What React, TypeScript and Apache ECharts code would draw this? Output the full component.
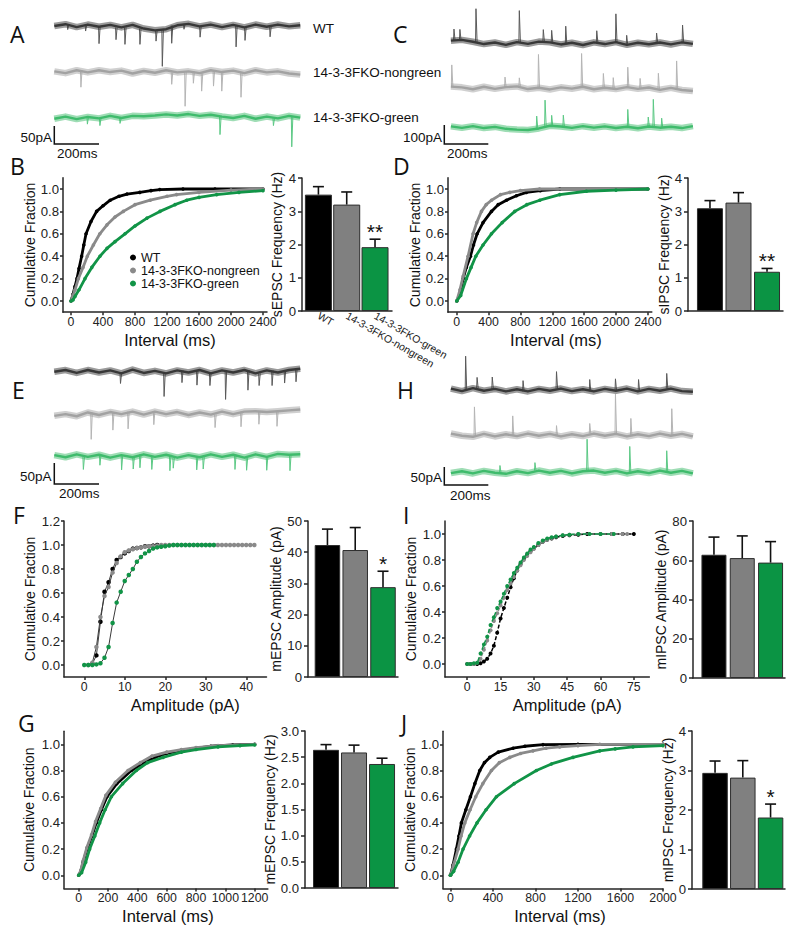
import React, { useEffect, useRef } from "react";
import * as echarts from "echarts";

// ---------------- data ----------------
const groups = ["WT", "14-3-3FKO-nongreen", "14-3-3FKO-green"];

// B: sEPSC inter-event interval cumulative fraction [ms, fraction]
const sEPSCIntWT = [[0,0],[25,0.06],[50,0.13],[75,0.2],[100,0.29],[133,0.4],[160,0.5],[188,0.6],[250,0.71],[320,0.8],[400,0.85],[490,0.9],[600,0.935],[700,0.955],[860,0.97],[1000,0.985],[1110,0.995],[1400,1],[1800,1],[2400,1]];
const sEPSCIntNG = [[0,0],[25,0.05],[50,0.1],[92,0.2],[150,0.3],[204,0.4],[280,0.5],[360,0.6],[450,0.68],[550,0.75],[654,0.8],[800,0.86],[990,0.9],[1200,0.935],[1320,0.95],[1600,0.97],[2000,0.99],[2400,1]];
const sEPSCIntG = [[0,0],[25,0.01],[50,0.04],[100,0.1],[175,0.2],[260,0.3],[362,0.4],[450,0.47],[550,0.53],[675,0.6],[800,0.67],[950,0.74],[1112,0.8],[1300,0.86],[1446,0.9],[1600,0.925],[1821,0.95],[2100,0.97],[2400,0.985]];
// B: sEPSC frequency (Hz)
const sEPSCFreqMean = [3.5, 3.2, 1.92];
const sEPSCFreqSem = [0.24, 0.38, 0.24];
const sEPSCFreqSig = ["", "", "**"];

// D: sIPSC interval
const sIPSCIntWT = [[0,0],[40,0.06],[80,0.2],[120,0.3],[172,0.4],[210,0.5],[256,0.6],[330,0.7],[436,0.8],[520,0.86],[624,0.9],[750,0.94],[875,0.97],[1050,0.985],[1294,1],[2400,1]];
const sIPSCIntNG = [[0,0],[40,0.1],[80,0.22],[142,0.4],[205,0.6],[250,0.7],[310,0.8],[370,0.86],[436,0.9],[550,0.95],[666,0.97],[800,0.985],[1040,1],[2400,1]];
const sIPSCIntG = [[0,0],[50,0.05],[121,0.2],[180,0.3],[239,0.4],[330,0.5],[436,0.6],[570,0.7],[729,0.8],[880,0.86],[1043,0.9],[1294,0.95],[1629,0.98],[2000,0.99],[2400,1]];
const sIPSCFreqMean = [3.09, 3.26, 1.18];
const sIPSCFreqSem = [0.23, 0.3, 0.1];
const sIPSCFreqSig = ["", "", "**"];

// F: mEPSC amplitude cumulative [pA, fraction]
const mEPSCAmpWT = [[2,0.01],[3,0.08],[4,0.36],[5,0.61],[6,0.69],[7,0.8],[8,0.875],[9,0.9],[10,0.93],[11,0.95],[12,0.97],[13,0.975],[14,0.98],[15,0.99],[16,0.99],[17,0.995],[18,1]];
const mEPSCAmpNG = [[1,0],[2,0.02],[3,0.15],[4,0.4],[5,0.575],[6,0.65],[7,0.77],[8,0.85],[9,0.905],[10,0.94],[11,0.955],[12,0.965],[13,0.975],[14,0.98],[15,0.985],[16,0.99],[17,0.99],[18,0.995],[19,1],[20,1],[21,1],[22,1],[23,1],[24,1],[25,1],[26,1],[27,1],[28,1],[29,1],[30,1],[31,1],[32,1],[33,1],[34,1],[35,1],[36,1],[37,1],[38,1],[39,1],[40,1],[41,1],[42,1]];
const mEPSCAmpG = [[0,0],[1,0],[2,0],[3,0.005],[4,0.015],[5,0.06],[6,0.15],[7,0.35],[8,0.52],[9,0.61],[10,0.7],[11,0.75],[12,0.8],[13,0.86],[14,0.9],[15,0.93],[16,0.95],[17,0.97],[18,0.98],[19,0.985],[20,0.99],[21,0.995],[22,1],[23,1],[24,1],[25,1],[26,1],[27,1],[28,1],[29,1],[30,1],[31,1],[32,1]];
const mEPSCAmpMean = [42.3, 40.7, 28.8];
const mEPSCAmpSem = [5.1, 7.2, 5.1];
const mEPSCAmpSig = ["", "", "*"];

// I: mIPSC amplitude cumulative
const mIPSCAmpWT = [[0,0],[1.5,0],[3,0],[4.5,0],[6,0.005],[7.5,0.02],[9,0.04],[10.5,0.08],[12,0.14],[13.5,0.24],[15,0.35],[16.5,0.43],[18,0.51],[19.5,0.59],[21,0.66],[22.5,0.72],[24,0.77],[25.5,0.81],[27,0.84],[28.5,0.87],[30,0.89],[32,0.915],[34,0.94],[36,0.955],[38,0.965],[40,0.975],[43,0.985],[46,0.99],[50,0.995],[54,1],[60,1],[65,1],[70,1],[75,1]];
const mIPSCAmpNG = [[0,0],[1.5,0],[3,0],[4.5,0.01],[6,0.04],[7.5,0.11],[9,0.18],[10.5,0.26],[12,0.33],[13.5,0.39],[15,0.45],[16.5,0.51],[18,0.57],[19.5,0.62],[21,0.67],[22.5,0.72],[24,0.76],[25.5,0.8],[27,0.83],[28.5,0.86],[30,0.885],[32,0.915],[34,0.94],[36,0.955],[38,0.97],[40,0.98],[43,0.99],[46,0.995],[50,1],[55,1],[60,1],[65,1],[70,1],[72,1]];
const mIPSCAmpG = [[0,0],[1.5,0],[3,0.005],[4.5,0.01],[6,0.08],[7.5,0.15],[9,0.21],[10.5,0.3],[12,0.36],[13.5,0.43],[15,0.48],[16.5,0.54],[18,0.6],[19.5,0.65],[21,0.7],[22.5,0.74],[24,0.78],[25.5,0.82],[27,0.85],[28.5,0.88],[30,0.9],[32,0.93],[34,0.95],[36,0.965],[38,0.975],[40,0.98],[43,0.99],[46,0.995],[50,1],[55,1],[60,1],[66,1]];
const mIPSCAmpMean = [62.8, 61.1, 58.8];
const mIPSCAmpSem = [9.0, 11.3, 10.7];
const mIPSCAmpSig = ["", "", ""];

// G: mEPSC interval
const mEPSCIntWT = [[0,0],[15,0.03],[30,0.1],[57,0.2],[90,0.3],[120,0.4],[155,0.5],[193,0.6],[260,0.7],[359,0.8],[430,0.85],[518,0.9],[600,0.93],[688,0.95],[800,0.97],[900,0.985],[1050,0.995],[1200,1]];
const mEPSCIntNG = [[0,0],[15,0.04],[30,0.11],[55,0.21],[88,0.31],[115,0.41],[150,0.51],[185,0.61],[250,0.71],[336,0.8],[420,0.86],[500,0.91],[600,0.94],[700,0.96],[800,0.975],[950,0.99],[1200,1]];
const mEPSCIntG = [[0,0],[20,0.02],[48,0.1],[75,0.2],[110,0.3],[143,0.4],[180,0.5],[223,0.6],[300,0.7],[393,0.8],[470,0.86],[575,0.9],[700,0.94],[800,0.96],[950,0.98],[1100,0.99],[1200,0.995]];
const mEPSCFreqMean = [2.64, 2.59, 2.37];
const mEPSCFreqSem = [0.1, 0.14, 0.11];
const mEPSCFreqSig = ["", "", ""];

// J: mIPSC interval
const mIPSCIntWT = [[0,0],[25,0.08],[56,0.2],[80,0.3],[103,0.4],[145,0.5],[188,0.6],[230,0.7],[276,0.8],[320,0.86],[370,0.9],[450,0.94],[589,0.97],[700,0.985],[871,0.997],[1200,1],[2000,1]];
const mIPSCIntNG = [[0,0],[30,0.08],[72,0.2],[100,0.3],[135,0.4],[185,0.5],[238,0.6],[305,0.7],[386,0.8],[460,0.86],[558,0.9],[660,0.93],[777,0.95],[900,0.97],[1028,0.98],[1200,0.99],[1405,1],[2000,1]];
const mIPSCIntG = [[0,0],[30,0.03],[72,0.1],[119,0.2],[180,0.3],[250,0.4],[335,0.5],[433,0.6],[600,0.7],[809,0.8],[950,0.85],[1153,0.9],[1405,0.95],[1550,0.965],[1718,0.98],[2000,0.99]];
const mIPSCFreqMean = [2.94, 2.82, 1.81];
const mIPSCFreqSem = [0.3, 0.43, 0.34];
const mIPSCFreqSig = ["", "", "*"];

// Example traces: baseline drift (pA, every 50 ms) and events [time ms, amplitude pA]
const A_WT_drift = [0,5,-3,4,-2,3,-4,3,-7,-12,-9,2,6,-1,4,-3,3,-4,4,-2,4,-1,2];
const A_NG_drift = [1,-4,4,-2,4,-1,3,-5,2,-3,4,-2,1,-4,4,-1,3,-4,4,-2,1,-5,-8];
const A_G_drift = [-4,2,-5,1,-3,4,-2,4,3,5,8,5,9,4,7,2,-2,4,-4,2,-3,4,-1];
const A_WT_events = [[60,15],[140,18],[200,47],[276,34],[316,47],[383,44],[455,30],[483,103],[525,50],[580,15],[652,30],[813,61],[853,36],[965,28]];
const A_NG_events = [[119,47],[525,33],[585,97],[622,33],[659,50],[712,44],[749,53],[835,67]];
const A_G_events = [[148,20],[204,20],[294,15],[741,50],[980,20],[1062,86]];

const C_WT_drift = [14,18,8,-4,4,-8,6,-3,9,5,-6,3,-9,5,-4,6,-8,3,-5,4,-6,5,-3];
const C_NG_drift = [9,5,-5,8,-3,6,10,-4,3,-6,5,-2,8,-5,3,-4,6,-3,4,-8,2,-9,-14];
const C_G_drift = [5,-3,6,-4,2,-8,-12,-14,-6,8,4,-3,6,-2,5,-4,3,-5,4,-2,3,-4,6];
const C_WT_events = [[44,61],[71,55],[144,174],[341,166],[450,63],[488,63],[552,96],[693,61],[780,149],[829,50],[965,50],[1083,91]];
const C_NG_events = [[34,114],[276,53],[341,45],[428,175],[624,175],[723,75],[768,60],[834,105],[890,55],[973,87],[1056,153]];
const C_G_events = [[420,65],[458,135],[488,55],[541,60],[834,91],[927,50],[950,143],[988,50]];

const E_WT_drift = [0,4,-3,4,-2,3,-4,5,-3,2,-4,3,-2,4,-4,3,-2,4,-4,3,-2,4,7];
const E_NG_drift = [-6,-2,-7,2,-4,3,-2,4,-3,4,-2,3,-4,2,-3,4,-2,4,5,3,5,7,9];
const E_G_drift = [2,-3,4,-2,3,-4,2,-3,4,-2,3,-4,2,-3,4,-2,3,-4,4,-2,5,3,4];
const E_WT_events = [[296,24],[491,55],[571,29],[638,36],[696,29],[766,69],[866,48],[916,29],[974,36],[1030,31],[1081,31]];
const E_NG_events = [[165,64],[262,43],[330,41],[445,31],[719,31],[835,36],[915,31],[996,36]];
const E_G_events = [[130,30],[204,25],[301,35],[353,28],[383,32],[436,30],[517,38],[532,25],[637,30],[666,28],[808,35],[860,30],[950,32],[1054,38]];

const H_WT_drift = [4,-3,5,-2,3,-4,2,-4,3,-2,4,-3,2,-4,3,-2,4,-4,3,-2,4,-3,-5];
const H_NG_drift = [4,-2,-5,3,-4,2,-3,4,-2,3,-4,2,-3,4,-2,3,-4,2,-3,4,-2,3,-4];
const H_G_drift = [-3,2,-4,3,-2,-5,2,-3,4,-2,3,-4,2,4,-2,3,-4,2,-3,4,-2,3,-4];
const H_WT_events = [[97,97],[149,30],[218,33],[358,30],[510,47],[661,33],[778,33],[883,33],[1011,42]];
const H_NG_events = [[137,83],[311,56],[510,30],[661,28],[778,111],[848,50],[1034,75]];
const H_G_events = [[253,20],[412,22],[649,89],[843,75],[1011,61]];

// ---------------- styles / layout ----------------
const FONT = "Liberation Sans, Arial, Helvetica, sans-serif";
const cdfColors = ["#000000", "#8a8a8a", "#119447"];
const barColors = ["#000000", "#808080", "#0b9444"];
const traceColors = ["#383838", "#a2a2a2", "#3fbb6c"];
const spikeColors = ["#5a5a5a", "#b5b5b5", "#5cc985"];
const AX = { color: "#262626", width: 1.5 };
const YTICK_FS = 13.2;
const XTICK_FS = 12.3;

const tracePanels = [
  { grid: { left: 54.3, top: 5, width: 246, height: 155 }, pxPerMs: 0.2236, pxPerPa: 0.36, tStart: 0, tStep: 50, dir: -1,
    traces: [{ y: 26, drift: A_WT_drift, events: A_WT_events }, { y: 71.7, drift: A_NG_drift, events: A_NG_events }, { y: 117.3, drift: A_G_drift, events: A_G_events }],
    scale: { topY: 126, amp: 50, ms: 200 } },
  { grid: { left: 444.3, top: 0, width: 249, height: 160 }, pxPerMs: 0.22, pxPerPa: 0.19, tStart: 30, tStep: 50, dir: 1,
    traces: [{ y: 43.3, drift: C_WT_drift, events: C_WT_events }, { y: 88.3, drift: C_NG_drift, events: C_NG_events }, { y: 127.3, drift: C_G_drift, events: C_G_events }],
    scale: { topY: 125, amp: 100, ms: 200 } },
  { grid: { left: 54.3, top: 340, width: 246, height: 160 }, pxPerMs: 0.2236, pxPerPa: 0.42, tStart: 0, tStep: 50, dir: -1,
    traces: [{ y: 371.7, drift: E_WT_drift, events: E_WT_events }, { y: 413.3, drift: E_NG_drift, events: E_NG_events }, { y: 456, drift: E_G_drift, events: E_G_events }],
    scale: { topY: 463, amp: 50, ms: 200 } },
  { grid: { left: 444.3, top: 340, width: 249, height: 160 }, pxPerMs: 0.22, pxPerPa: 0.36, tStart: 30, tStep: 50, dir: 1,
    traces: [{ y: 390, drift: H_WT_drift, events: H_WT_events }, { y: 435, drift: H_NG_drift, events: H_NG_events }, { y: 472, drift: H_G_drift, events: H_G_events }],
    scale: { topY: 467, amp: 50, ms: 200 } },
];

const cdfPanels = [
  { left: 63, top: 177.8, width: 204, height: 134.4, xMin: -100, xMax: 2450, xTicks: [0,400,800,1200,1600,2000,2400], yMin: -0.1, yMax: 1.1, yTicks: [0,0.2,0.4,0.6,0.8,1], xName: "Interval (ms)", xShift: 10, yGap: 21, data: [sEPSCIntWT, sEPSCIntNG, sEPSCIntG], kind: "dense" },
  { left: 448, top: 177.8, width: 203.8, height: 134.4, xMin: -110, xMax: 2450, xTicks: [0,400,800,1200,1600,2000,2400], yMin: -0.1, yMax: 1.1, yTicks: [0,0.2,0.4,0.6,0.8,1], xName: "Interval (ms)", xShift: 12, yGap: 26, data: [sIPSCIntWT, sIPSCIntNG, sIPSCIntG], kind: "dense" },
  { left: 64, top: 521, width: 202.5, height: 156, xMin: -5, xMax: 45, xTicks: [0,10,20,30,40], yMin: -0.1, yMax: 1.2, yTicks: [0,0.2,0.4,0.6,0.8,1,1.2], xName: "Amplitude (pA)", xShift: 40, yGap: 27, data: [mEPSCAmpWT, mEPSCAmpNG, mEPSCAmpG], kind: "connected" },
  { left: 445, top: 521, width: 204.4, height: 156, xMin: -10, xMax: 82, xTicks: [0,15,30,45,60,75], yMin: -0.1, yMax: 1.1, yTicks: [0,0.2,0.4,0.6,0.8,1], xName: "Amplitude (pA)", xShift: 40, yGap: 27, data: [mIPSCAmpWT, mIPSCAmpNG, mIPSCAmpG], kind: "dashed" },
  { left: 64, top: 731.2, width: 203.9, height: 157.2, xMin: -100, xMax: 1290, xTicks: [0,200,400,600,800,1000,1200], yMin: -0.1, yMax: 1.1, yTicks: [0,0.2,0.4,0.6,0.8,1], xName: "Interval (ms)", xShift: 4, yGap: 28, data: [mEPSCIntWT, mEPSCIntNG, mEPSCIntG], kind: "dense" },
  { left: 443, top: 731.2, width: 220, height: 157.2, xMin: -70, xMax: 2000, xTicks: [0,400,800,1200,1600,2000], yMin: -0.1, yMax: 1.1, yTicks: [0,0.2,0.4,0.6,0.8,1], xName: "Interval (ms)", xShift: 14, yGap: 26, data: [mIPSCIntWT, mIPSCIntNG, mIPSCIntG], kind: "dense" },
];

const barPanels = [
  { left: 302, top: 178, width: 90, height: 133, xMin: -0.58, xMax: 2.6, yMax: 4, yInt: 1, dec: 0, name: "sEPSC Frequency (Hz)", nameGap: 18, barW: 27, mean: sEPSCFreqMean, sem: sEPSCFreqSem, sig: sEPSCFreqSig, cats: true },
  { left: 688, top: 178, width: 95, height: 133, xMin: -0.77, xMax: 2.56, yMax: 4, yInt: 1, dec: 0, name: "sIPSC Frequency (Hz)", nameGap: 12, barW: 26, mean: sIPSCFreqMean, sem: sIPSCFreqSem, sig: sIPSCFreqSig, cats: false },
  { left: 308, top: 521, width: 90, height: 156, xMin: -0.7, xMax: 2.54, yMax: 50, yInt: 10, dec: 0, name: "mEPSC Amplitude (pA)", nameGap: 22, barW: 25.5, mean: mEPSCAmpMean, sem: mEPSCAmpSem, sig: mEPSCAmpSig, cats: false },
  { left: 693, top: 521, width: 92, height: 157, xMin: -0.74, xMax: 2.51, yMax: 80, yInt: 20, dec: 0, name: "mIPSC Amplitude (pA)", nameGap: 19, barW: 25, mean: mIPSCAmpMean, sem: mIPSCAmpSem, sig: mIPSCAmpSig, cats: false },
  { left: 305, top: 731, width: 93, height: 157, xMin: -0.75, xMax: 2.57, yMax: 3, yInt: 0.5, dec: 1, name: "mEPSC Frequency (Hz)", nameGap: 22, barW: 26, mean: mEPSCFreqMean, sem: mEPSCFreqSem, sig: mEPSCFreqSig, cats: false },
  { left: 692, top: 731, width: 93, height: 158, xMin: -0.83, xMax: 2.52, yMax: 4, yInt: 1, dec: 0, name: "mIPSC Frequency (Hz)", nameGap: 15, barW: 25.5, mean: mIPSCFreqMean, sem: mIPSCFreqSem, sig: mIPSCFreqSig, cats: false },
];

const letters = [["A",10,34],["C",393,34],["B",10,166],["D",393,166],["E",12,390],["H",397,390],["F",13,515],["I",403,515],["G",18,723],["J",401,723]];
const traceLabels = [["WT",313,28],["14-3-3FKO-nongreen",313,72.5],["14-3-3FKO-green",313,117.5]];
const scaleLabels = [
  ["50pA",52,137.5,"right"],["200ms",57,153.5,"left"],
  ["100pA",442,137.5,"right"],["200ms",447,153,"left"],
  ["50pA",51.5,476,"right"],["200ms",59,493,"left"],
  ["50pA",442,477,"right"],["200ms",450,495.5,"left"],
];

function buildOption() {
  const grid: any[] = [];
  const xAxis: any[] = [];
  const yAxis: any[] = [];
  const series: any[] = [];

  // trace panels
  tracePanels.forEach((p) => {
    const gi = grid.length;
    grid.push({ ...p.grid, containLabel: false, outerBoundsMode: "none" });
    xAxis.push({ type: "value", gridIndex: gi, min: 0, max: p.grid.width / p.pxPerMs, show: false });
    yAxis.push({ type: "value", gridIndex: gi, min: -p.grid.height / p.pxPerPa, max: 0, show: false });
    p.traces.forEach((tr, k) => {
      const base = -(tr.y - p.grid.top) / p.pxPerPa;
      const band = tr.drift.map((d, i) => [p.tStart + i * p.tStep, base + d]);
      series.push({
        type: "line", xAxisIndex: gi, yAxisIndex: gi, silent: true, clip: false, data: band,
        symbol: "none", lineStyle: { color: traceColors[k], width: 6.5, opacity: 0.5, join: "round" }, z: 2,
      });
      series.push({
        type: "line", xAxisIndex: gi, yAxisIndex: gi, silent: true, clip: false, data: band,
        symbol: "none", lineStyle: { color: traceColors[k], width: 2.4, join: "round" }, z: 2,
      });
      series.push({
        type: "lines", coordinateSystem: "cartesian2d", xAxisIndex: gi, yAxisIndex: gi, polyline: true, silent: true, clip: false,
        data: tr.events.map(([t, a]) => {
          const idx = Math.max(0, Math.min(tr.drift.length - 1, Math.round((t - p.tStart) / p.tStep)));
          const b = base + tr.drift[idx];
          return { coords: [[t - 2, b], [t, b + p.dir * a], [t + 5, b]] };
        }),
        lineStyle: { color: spikeColors[k], width: 1, opacity: 1 }, z: 1,
      });
    });
    const vTop = -(p.scale.topY - p.grid.top) / p.pxPerPa;
    series.push({
      type: "lines", coordinateSystem: "cartesian2d", xAxisIndex: gi, yAxisIndex: gi, polyline: true, silent: true, clip: false,
      data: [{ coords: [[0, vTop], [0, vTop - p.scale.amp], [p.scale.ms, vTop - p.scale.amp]] }],
      lineStyle: { color: "#111", width: 1.5, opacity: 1 }, z: 3,
    });
  });

  // CDF panels
  cdfPanels.forEach((p) => {
    const gi = grid.length;
    grid.push({ left: p.left, top: p.top, width: p.width, height: p.height, containLabel: false, outerBoundsMode: "none" });
    xAxis.push({
      type: "value", gridIndex: gi, min: p.xMin, max: p.xMax,
      axisLine: { show: true, onZero: false, lineStyle: AX },
      axisTick: { show: true, length: 3, customValues: p.xTicks, lineStyle: AX },
      axisLabel: { customValues: p.xTicks, fontSize: XTICK_FS, color: "#222", margin: 4, fontFamily: FONT, formatter: (v: number) => String(v) },
      splitLine: { show: false },
      name: p.xName, nameLocation: "middle", nameGap: 19,
      nameTextStyle: { fontSize: 16.5, color: "#111", fontFamily: FONT, padding: [0, 0, 0, p.xShift] },
    });
    yAxis.push({
      type: "value", gridIndex: gi, min: p.yMin, max: p.yMax,
      axisLine: { show: true, onZero: false, lineStyle: AX },
      axisTick: { show: true, length: 3, customValues: p.yTicks, lineStyle: AX },
      axisLabel: { customValues: p.yTicks, fontSize: YTICK_FS, color: "#222", margin: 4, fontFamily: FONT, formatter: (v: number) => v.toFixed(1) },
      splitLine: { show: false },
      name: "Cumulative Fraction", nameLocation: "middle", nameRotate: 90, nameGap: p.yGap,
      nameTextStyle: { fontSize: 14, color: "#111", fontFamily: FONT },
    });
    [1, 0, 2].forEach((k) => {
      const base: any = {
        type: "line", name: groups[k], xAxisIndex: gi, yAxisIndex: gi, data: p.data[k], silent: true,
        symbol: "circle", showSymbol: true, showAllSymbol: true, z: 3 + k,
        itemStyle: { color: cdfColors[k] },
      };
      if (p.kind === "dense") {
        base.symbolSize = 3.6;
        base.lineStyle = { color: cdfColors[k], width: 2.8 };
      } else if (p.kind === "connected") {
        base.symbolSize = 4.5;
        base.lineStyle = { color: "#3a3a3a", width: 1 };
      } else {
        base.symbolSize = 4;
        base.lineStyle = { color: cdfColors[k], width: 1.5, type: [4, 2] };
      }
      series.push(base);
    });
  });

  // bar panels
  barPanels.forEach((p) => {
    const gi = grid.length;
    grid.push({ left: p.left, top: p.top, width: p.width, height: p.height, containLabel: false, outerBoundsMode: "none" });
    xAxis.push({
      type: "value", gridIndex: gi, min: p.xMin, max: p.xMax,
      axisLine: { show: true, onZero: false, lineStyle: AX },
      axisTick: { show: false },
      axisLabel: p.cats
        ? { show: true, customValues: [0, 1, 2], formatter: (v: number) => groups[Math.round(v)], rotate: -30, fontSize: 10.5, color: "#222", margin: 4, fontFamily: FONT }
        : { show: false },
      splitLine: { show: false },
    });
    yAxis.push({
      type: "value", gridIndex: gi, min: 0, max: p.yMax, interval: p.yInt,
      axisLine: { show: true, onZero: false, lineStyle: AX },
      axisTick: { show: true, length: 4, lineStyle: AX },
      axisLabel: { fontSize: YTICK_FS, color: "#222", margin: 6, fontFamily: FONT, formatter: (v: number) => v.toFixed(p.dec) },
      splitLine: { show: false },
      name: p.name, nameLocation: "middle", nameRotate: 90, nameGap: p.nameGap,
      nameTextStyle: { fontSize: 14, color: "#111", fontFamily: FONT },
    });
    series.push({
      type: "bar", name: p.name, xAxisIndex: gi, yAxisIndex: gi, barWidth: p.barW, silent: true, z: 2,
      data: p.mean.map((m, i) => ({ value: [i, m], itemStyle: { color: barColors[i] } })),
      itemStyle: { borderColor: "#2e2e2e", borderWidth: 1 },
    });
    const sig = p.sig;
    series.push({
      type: "custom", coordinateSystem: "cartesian2d", xAxisIndex: gi, yAxisIndex: gi, silent: true, z: 5, clip: false,
      data: p.mean.map((m, i) => [i, m, p.sem[i]]),
      renderItem: (params: any, api: any) => {
        const i = api.value(0), m = api.value(1), e = api.value(2);
        const a = api.coord([i, m]);
        const b = api.coord([i, m + e]);
        const children: any[] = [
          { type: "line", shape: { x1: a[0], y1: a[1], x2: b[0], y2: b[1] }, style: { stroke: "#111", lineWidth: 1.6 } },
          { type: "line", shape: { x1: b[0] - 5.5, y1: b[1], x2: b[0] + 5.5, y2: b[1] }, style: { stroke: "#111", lineWidth: 1.6 } },
        ];
        const s = sig[params.dataIndex];
        if (s) {
          children.push({
            type: "text",
            style: { text: s, x: b[0], y: b[1] - 8, align: "center", verticalAlign: "middle", textAlign: "center", textVerticalAlign: "middle", fontSize: 21, fontFamily: FONT, fill: "#111" },
          });
        }
        return { type: "group", children };
      },
    });
  });

  const graphic: any[] = [];
  letters.forEach(([t, x, y]) => graphic.push({ type: "text", x, y, style: { text: t, fontSize: 23, fontFamily: "Open Sans, sans-serif", fill: "#111", verticalAlign: "middle", textVerticalAlign: "middle" } }));
  traceLabels.forEach(([t, x, y]) => graphic.push({ type: "text", x, y, style: { text: t, fontSize: 13.5, fontFamily: FONT, fill: "#111", verticalAlign: "middle", textVerticalAlign: "middle" } }));
  scaleLabels.forEach(([t, x, y, al]) => graphic.push({ type: "text", x, y, style: { text: t, fontSize: 13.5, fontFamily: FONT, fill: "#111", align: al, textAlign: al, verticalAlign: "middle", textVerticalAlign: "middle" } }));

  return {
    animation: false,
    backgroundColor: "#ffffff",
    textStyle: { fontFamily: FONT },
    legend: {
      data: groups, orient: "vertical", left: 130, top: 251, padding: 0, itemGap: 0,
      itemWidth: 6, itemHeight: 6, icon: "circle", selectedMode: false,
      textStyle: { fontSize: 12.5, color: "#111", lineHeight: 12, fontFamily: FONT },
    },
    grid, xAxis, yAxis, series, graphic,
  };
}

export default function App() {
  const ref = useRef<HTMLDivElement>(null);
  useEffect(() => {
    const chart = echarts.init(ref.current as HTMLDivElement, null, { renderer: "svg" });
    chart.setOption(buildOption() as any);
    return () => chart.dispose();
  }, []);
  return <div ref={ref} style={{ position: "absolute", left: 0, top: 0, width: 800, height: 935, background: "#fff" }} />;
}
